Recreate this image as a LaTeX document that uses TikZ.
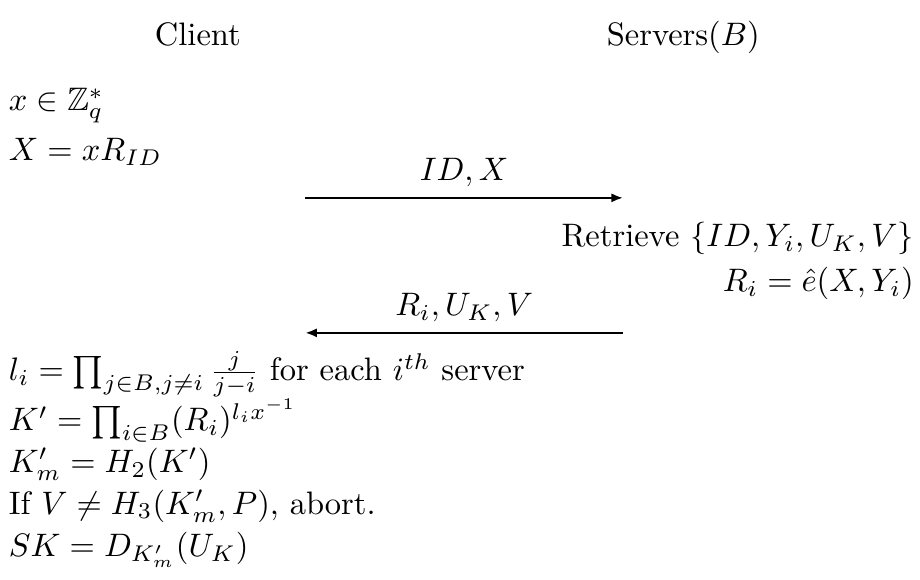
\documentclass[tikz,border=0pt]{standalone}
\usepackage{amsmath,amssymb}
\usetikzlibrary{positioning,calc,arrows.meta}
\tikzset{txt/.style={inner sep=0pt,anchor=base west}}
\tikzset{rtxt/.style={inner sep=0pt,anchor=base east}}
\tikzset{msg/.style={-{Latex[length=3.6pt,width=2.8pt]},line width=0.8pt}}
\begin{document}
\begin{tikzpicture}
\useasboundingbox (0,0) rectangle (9.95,6.27);

    % parties
    \node[inner sep=0pt,anchor=base] (client) at (2.14,5.78) {Client};
    \node[inner sep=0pt,anchor=base] (servers) at (7.39,5.78) {Servers$(B)$};

    % client, first step
    \node[txt] (xsel) at (0.09,5.07) {$x \in \mathbb{Z}_q^*$};
    \node[txt] (xcomp) at (0.09,4.53) {$X = xR_{ID}$};

    % first message
    \coordinate (m1s) at (3.30,4.13);
    \coordinate (m1e) at (6.74,4.13);
    \draw[msg] (m1s) -- (m1e);
    \node[inner sep=0pt,anchor=base] (m1) at ($(m1s)!0.5!(m1e)+(0,0.19)$) {$ID, X$};

    % servers
    \node[rtxt] (retr) at (9.89,3.60) {Retrieve $\{ID, Y_i, U_K, V\}$};
    \node[rtxt] (rcomp) at (9.89,3.12) {$R_i = \hat{e}(X, Y_i)$};

    % second message
    \coordinate (m2s) at (6.74,2.67);
    \coordinate (m2e) at (3.30,2.67);
    \draw[msg] (m2s) -- (m2e);
    \node[inner sep=0pt,anchor=base] (m2) at ($(m2s)!0.5!(m2e)+(0,0.19)$) {$R_i, U_K, V$};

    % client, second step
    \node[txt] (lag) at (0.09,2.15) {$l_i = \prod_{j\in B, j\neq i} \frac{j}{j-i}$ for each $i^{th}$ server};
    \node[txt] (kcomp) at (0.09,1.61) {$K' = \prod_{i\in B} (R_i)^{l_i x^{-1}}$};
    \node[txt] (kmac) at (0.09,1.16) {$K'_m = H_2(K')$};
    \node[txt] (check) at (0.09,0.71) {If $V \neq H_3(K'_m, P)$, abort.};
    \node[txt] (sk) at (0.09,0.25) {$SK = D_{K'_m}(U_K)$};

\end{tikzpicture}
\end{document}
